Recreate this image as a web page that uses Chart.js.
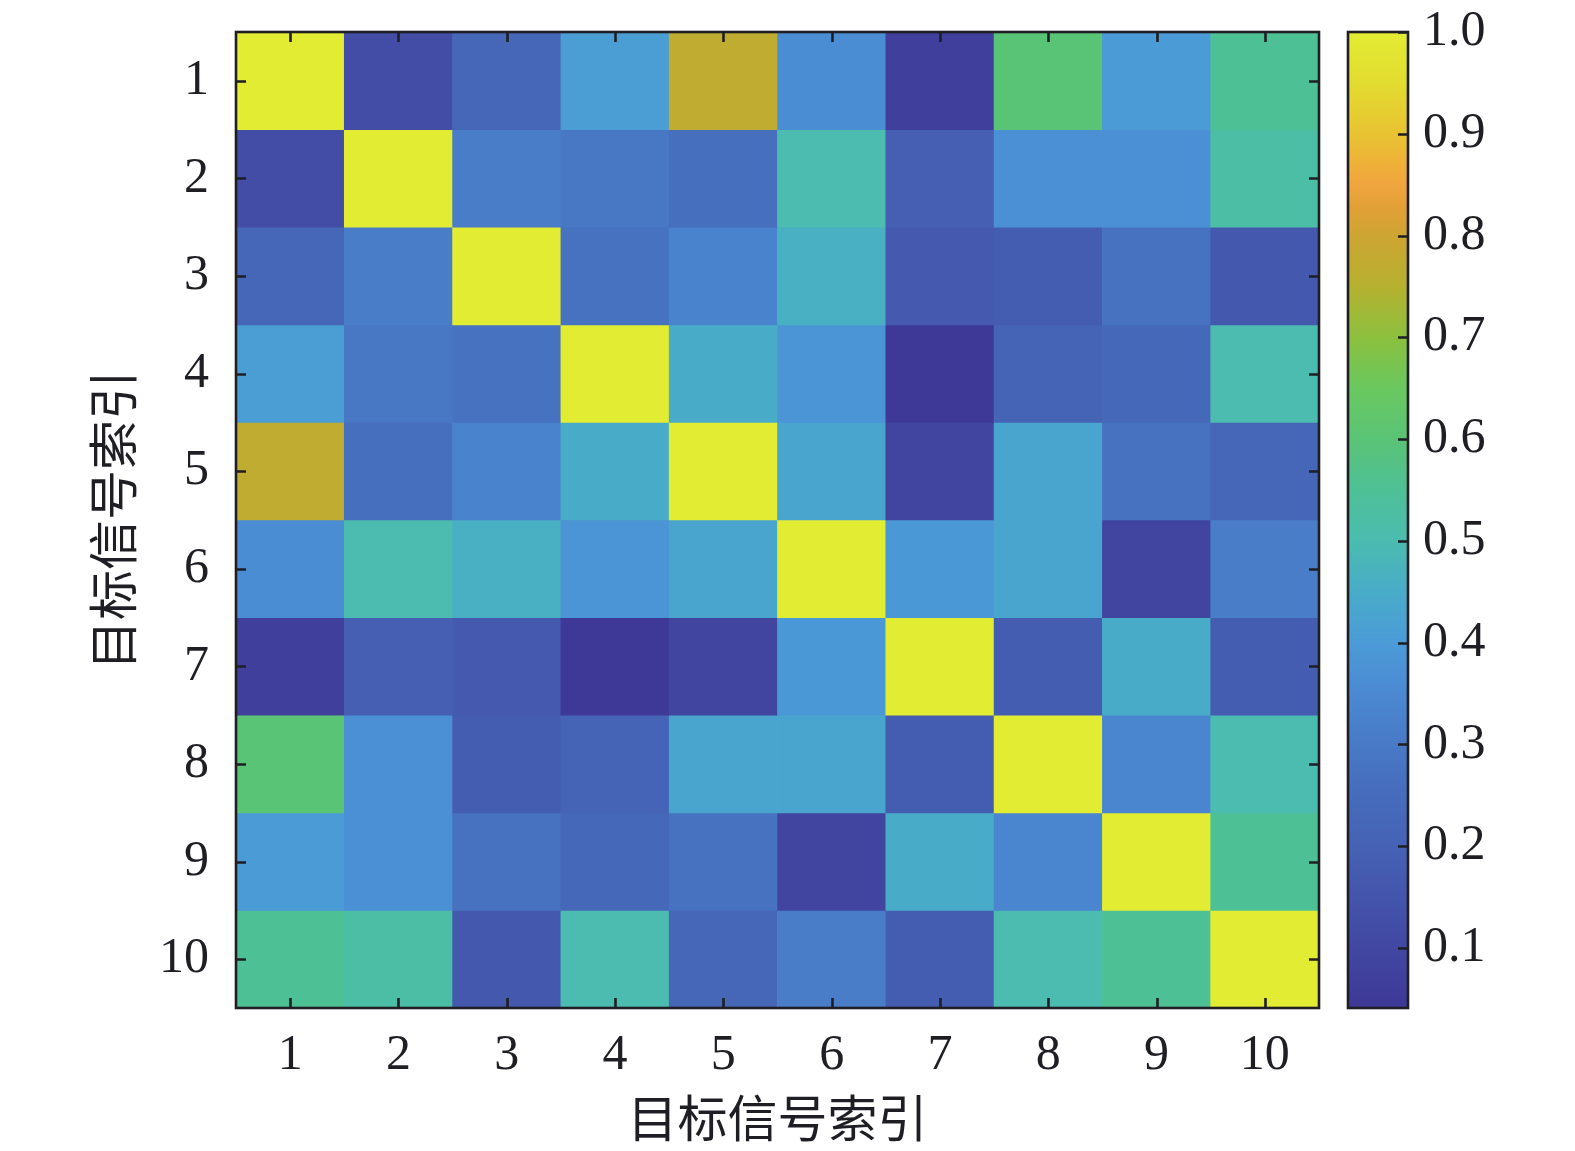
<!DOCTYPE html>
<html>
<head>
<meta charset="utf-8">
<script src="https://cdn.jsdelivr.net/npm/chart.js@4.4.1/dist/chart.umd.min.js"></script>
<style>
html,body{margin:0;padding:0;background:#ffffff;overflow:hidden;}
#wrap{position:relative;width:1575px;height:1151px;}
#wrap canvas{position:absolute;left:0;top:0;}
</style>
</head>
<body>
<div id="wrap">
<canvas id="main" width="1575" height="1151"></canvas>
<canvas id="cbar" width="1575" height="1151"></canvas>
</div>
<script>
// ---------- data ----------
const xLabels = ['1','2','3','4','5','6','7','8','9','10'];
const yLabels = ['1','2','3','4','5','6','7','8','9','10'];
const xTitle = '目标信号索引';
const yTitle = '目标信号索引';

const row1  = [1.00, 0.12, 0.22, 0.41, 0.77, 0.36, 0.07, 0.60, 0.40, 0.55];
const row2  = [0.12, 1.00, 0.31, 0.29, 0.26, 0.50, 0.19, 0.37, 0.37, 0.52];
const row3  = [0.22, 0.31, 1.00, 0.27, 0.33, 0.46, 0.17, 0.18, 0.27, 0.16];
const row4  = [0.41, 0.29, 0.27, 1.00, 0.45, 0.38, 0.045, 0.21, 0.23, 0.50];
const row5  = [0.77, 0.26, 0.33, 0.45, 1.00, 0.43, 0.09, 0.43, 0.27, 0.22];
const row6  = [0.36, 0.50, 0.46, 0.38, 0.43, 1.00, 0.39, 0.43, 0.09, 0.31];
const row7  = [0.07, 0.19, 0.17, 0.045, 0.09, 0.39, 1.00, 0.18, 0.45, 0.18];
const row8  = [0.60, 0.37, 0.18, 0.21, 0.43, 0.43, 0.18, 1.00, 0.34, 0.50];
const row9  = [0.40, 0.37, 0.27, 0.23, 0.27, 0.09, 0.45, 0.34, 1.00, 0.55];
const row10 = [0.55, 0.52, 0.16, 0.50, 0.22, 0.31, 0.18, 0.50, 0.55, 1.00];
const matrix = [row1,row2,row3,row4,row5,row6,row7,row8,row9,row10];

const cbMin = 0.041;
const cbMax = 1.0;
const cbTicks = [0.1,0.2,0.3,0.4,0.5,0.6,0.7,0.8,0.9,1.0];

// ---------- colormap (parula-like, as printed) ----------
const CMAP = [
  [0.000, 62, 56,150],
  [0.062, 66, 72,162],
  [0.114, 68, 85,172],
  [0.166, 70, 98,180],
  [0.218, 70,108,188],
  [0.270, 72,122,198],
  [0.322, 75,137,210],
  [0.374, 75,155,215],
  [0.427, 72,172,200],
  [0.479, 75,188,175],
  [0.531, 78,192,150],
  [0.583, 90,196,118],
  [0.635,105,200, 95],
  [0.687,140,192, 62],
  [0.739,182,177, 48],
  [0.791,205,165, 50],
  [0.818,225,160, 55],
  [0.844,240,165, 62],
  [0.870,238,180, 55],
  [0.896,232,195, 50],
  [0.948,226,220, 48],
  [1.000,226,236, 50]
];
function cmapColor(t){
  t = Math.max(0, Math.min(1, t));
  for (let i = 1; i < CMAP.length; i++){
    const a = CMAP[i-1], b = CMAP[i];
    if (t <= b[0]){
      const f = (t - a[0]) / (b[0] - a[0] || 1);
      const r = Math.round(a[1] + (b[1]-a[1])*f);
      const g = Math.round(a[2] + (b[2]-a[2])*f);
      const bl = Math.round(a[3] + (b[3]-a[3])*f);
      return 'rgb(' + r + ',' + g + ',' + bl + ')';
    }
  }
  const l = CMAP[CMAP.length-1];
  return 'rgb(' + l[1] + ',' + l[2] + ',' + l[3] + ')';
}
function colorFor(v){ return cmapColor((v - cbMin) / (cbMax - cbMin)); }

// ---------- common styles ----------
const INK = '#1e1e24';
const SERIF = '"Liberation Serif", "Times New Roman", serif';
const CJK = '"Noto Sans CJK SC", "Noto Sans CJK JP", sans-serif';
Chart.defaults.font.family = SERIF;
Chart.defaults.color = INK;

const AREA = {left: 236, top: 32, right: 1319, bottom: 1008};
const CB = {left: 1348, right: 1408};
const TICK_LEN = 10;

function noVPad(s){ s.paddingTop = 0; s.paddingBottom = 0; }

// ---------- heatmap ----------
const heatDatasets = matrix.map((row, i) => ({
  label: yLabels[i],
  data: row.map(() => [i + 0.5, i + 1.5]),
  backgroundColor: row.map(v => colorFor(v)),
  borderWidth: 0,
  barPercentage: 1,
  categoryPercentage: 1,
  grouped: false
}));

const framePlugin = {
  id: 'frameTicks',
  afterDraw(chart){
    const {ctx, chartArea: a, scales: {x, y}} = chart;
    ctx.save();
    ctx.strokeStyle = INK;
    ctx.lineWidth = 2.6;
    ctx.lineCap = 'butt';
    ctx.beginPath();
    xLabels.forEach((l, j) => {
      const px = Math.round(x.getPixelForValue(j)) + 0.5;
      ctx.moveTo(px, a.bottom); ctx.lineTo(px, a.bottom - TICK_LEN);
      ctx.moveTo(px, a.top); ctx.lineTo(px, a.top + TICK_LEN);
    });
    yLabels.forEach((l, i) => {
      const py = Math.round(y.getPixelForValue(i + 1)) + 0.5;
      ctx.moveTo(a.left, py); ctx.lineTo(a.left + TICK_LEN, py);
      ctx.moveTo(a.right, py); ctx.lineTo(a.right - TICK_LEN, py);
    });
    ctx.stroke();
    ctx.strokeRect(a.left, a.top, a.right - a.left, a.bottom - a.top);
    ctx.restore();
  }
};

new Chart(document.getElementById('main'), {
  type: 'bar',
  data: { labels: xLabels, datasets: heatDatasets },
  options: {
    responsive: false,
    animation: false,
    events: [],
    layout: { padding: { left: 0, top: AREA.top, right: 1575 - AREA.right, bottom: 0 } },
    plugins: { legend: { display: false }, tooltip: { enabled: false } },
    scales: {
      x: {
        type: 'category',
        offset: true,
        grid: { display: false, drawTicks: false },
        border: { display: false },
        ticks: { padding: 18, font: { size: 50, family: SERIF }, color: INK, maxRotation: 0, autoSkip: false },
        title: { display: true, text: xTitle, font: { size: 50, family: CJK }, color: INK, padding: { top: 0, bottom: 3 } },
        afterFit(s){ s.height = 1151 - AREA.bottom; s.paddingLeft = 0; s.paddingRight = 0; }
      },
      y: {
        type: 'linear',
        min: 0.5,
        max: 10.5,
        reverse: true,
        grid: { display: false, drawTicks: false },
        border: { display: false },
        afterBuildTicks(s){ s.ticks = yLabels.map((l, i) => ({ value: i + 1 })); },
        ticks: {
          padding: 27,
          font: { size: 50, family: SERIF },
          color: INK,
          callback: (v, idx) => yLabels[idx]
        },
        title: { display: true, text: yTitle, font: { size: 50, family: CJK }, color: INK, padding: { top: 83, bottom: 0 } },
        afterFit(s){ s.width = AREA.left; noVPad(s); }
      }
    }
  },
  plugins: [framePlugin]
});

// ---------- colorbar ----------
const cbPlugin = {
  id: 'cbGradient',
  beforeDatasetsDraw(chart){
    const {ctx, chartArea: a, scales: {y}} = chart;
    const g = ctx.createLinearGradient(0, y.getPixelForValue(cbMin), 0, y.getPixelForValue(cbMax));
    CMAP.forEach(s => g.addColorStop(s[0], 'rgb(' + s[1] + ',' + s[2] + ',' + s[3] + ')'));
    ctx.save();
    ctx.fillStyle = g;
    ctx.fillRect(a.left, a.top, a.right - a.left, a.bottom - a.top);
    ctx.restore();
  },
  afterDraw(chart){
    const {ctx, chartArea: a, scales: {y}} = chart;
    ctx.save();
    ctx.strokeStyle = INK;
    ctx.lineWidth = 2.6;
    ctx.beginPath();
    cbTicks.forEach(v => {
      const py = Math.round(y.getPixelForValue(v)) + 0.5;
      ctx.moveTo(a.right, py); ctx.lineTo(a.right - TICK_LEN, py);
    });
    ctx.stroke();
    ctx.strokeRect(a.left, a.top, a.right - a.left, a.bottom - a.top);
    ctx.restore();
  }
};

new Chart(document.getElementById('cbar'), {
  type: 'bar',
  data: { labels: [''], datasets: [{ data: [] }] },
  options: {
    responsive: false,
    animation: false,
    events: [],
    layout: { padding: { left: CB.left, top: AREA.top, right: 0, bottom: 1151 - AREA.bottom } },
    plugins: { legend: { display: false }, tooltip: { enabled: false } },
    scales: {
      x: { display: false },
      y: {
        type: 'linear',
        position: 'right',
        min: cbMin,
        max: cbMax,
        grid: { display: false, drawTicks: false },
        border: { display: false },
        afterBuildTicks(s){ s.ticks = cbTicks.map(v => ({ value: v })); },
        ticks: {
          padding: 15,
          font: { size: 50, family: SERIF },
          color: INK,
          callback: (v) => Number(v).toFixed(1)
        },
        afterFit(s){ s.width = 1575 - CB.right; noVPad(s); }
      }
    }
  },
  plugins: [cbPlugin]
});
</script>
</body>
</html>
